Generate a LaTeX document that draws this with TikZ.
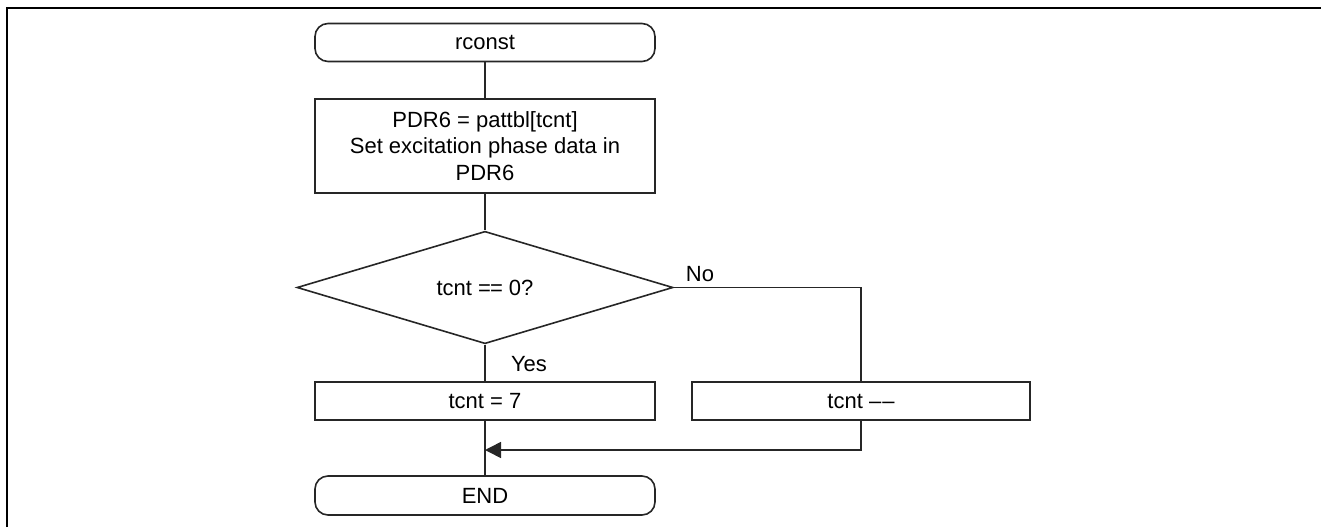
\documentclass[tikz,border=0pt]{standalone}
\usepackage{fontspec}
\setmainfont{Liberation Sans}
\usetikzlibrary{shapes.geometric,arrows.meta}

\tikzset{
  flow/.style={line width=1.6pt, draw=black!85},
  terminal/.style={flow, rectangle, rounded corners=13pt, minimum width=340pt, minimum height=38pt, inner sep=0pt},
  process/.style={flow, rectangle, minimum width=340pt, inner sep=0pt, align=center},
  decision/.style={flow, diamond, minimum width=376pt, minimum height=111pt, inner sep=0pt},
  label/.style={inner sep=0pt},
  link/.style={flow},
  arrowlink/.style={flow, -{Triangle[length=16pt,width=16pt]}},
}

\begin{document}
\begin{tikzpicture}[x=1pt, y=-1pt, font=\fontsize{22}{26.7}\selectfont]
  \useasboundingbox (0,0) rectangle (1321,527);

  % outer frame, top and left edges
  \draw[line width=2.5pt] (7,527) -- (7,8) -- (1321,8);

  % flowchart blocks
  \node[terminal] (start) at (485,42.5) {rconst};
  \node[process, minimum height=94pt] (phase) at (485,146)
    {\raisebox{4pt}{\parbox{330pt}{\centering PDR6 = pattbl[tcnt]\\Set excitation phase data in\\PDR6}}};
  \node[decision] (test) at (485,287.5) {tcnt =\kern-1pt= 0?};
  \node[process, minimum height=38pt] (reset) at (485,401) {tcnt = 7};
  \node[process, minimum width=338pt, minimum height=38pt] (decr) at (861,401) {tcnt –\kern1pt–};
  \node[terminal, minimum height=39pt] (finish) at (485,495.5) {END};

  % branch labels
  \node[label] (yes) at (529,364) {Yes};
  \node[label] (no) at (700,274) {No};

  % merge point
  \coordinate (join) at (485,450);

  % connectors
  \draw[link] (start.south) -- (phase.north);
  \draw[link] (phase.south) -- (test.north);
  \draw[link] (test.south) -- (reset.north);
  \draw[link] (test.east) -| (decr.north);
  \draw[link] (reset.south) -- (finish.north);
  \draw[arrowlink] (decr.south) |- (join);
\end{tikzpicture}
\end{document}
